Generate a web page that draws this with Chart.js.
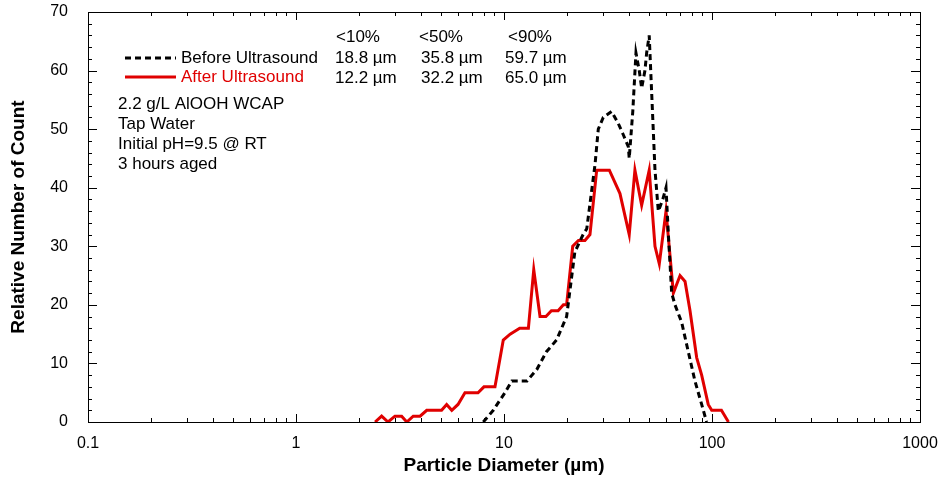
<!DOCTYPE html>
<html>
<head>
<meta charset="utf-8">
<script src="https://cdn.jsdelivr.net/npm/chart.js@4"></script>
<style>
  html, body { margin: 0; padding: 0; background: #fff; }
  #wrap { width: 943px; height: 477px; }
</style>
</head>
<body>
<div id="wrap"><canvas id="psd" width="943" height="477"></canvas></div>
<script>
// particle size distribution
const beforeX = [7.95, 8.88, 10.1, 10.9, 12.9, 14.4, 16.0, 17.9, 20.0, 21.9, 24.0, 25.0, 27.4, 28.4, 30.0,
  32.9, 35.4, 37.5, 39.6, 40.0, 41.6, 43.1, 44.7, 45.9, 47.6, 48.5, 49.9, 53.2, 55.2, 58.0,
  60.1, 61.7, 64.0, 66.4, 71.5, 76.9, 82.8, 89.2, 94.2];
const beforeY = [0, 2, 5, 7, 7, 9, 12, 14, 18, 29, 32, 33, 44, 50, 52,
  53, 51, 49, 47, 45, 53, 63, 60, 57, 60, 63, 66, 43, 36, 38,
  40, 32, 22, 20, 17, 12, 7, 3, 0];

const afterX = [2.40, 2.58, 2.77, 2.99, 3.22, 3.41, 3.66, 3.95, 4.25, 5.01, 5.30, 5.61, 6.01, 6.49, 7.50,
  8.01, 9.05, 9.92, 10.7, 11.9, 13.1, 13.9, 14.9, 15.9, 16.9, 18.2, 19.3, 20.0, 21.4, 22.8,
  24.5, 25.9, 27.9, 32.1, 36.1, 40.0, 42.6, 45.9, 49.9, 53.2, 55.8, 60.1, 65.2, 70.2, 74.2,
  78.4, 84.4, 89.2, 95.9, 99.7, 111, 120];
const afterY = [0, 1, 0, 1, 1, 0, 1, 1, 2, 2, 3, 2, 3, 5, 5,
  6, 6, 14, 15, 16, 16, 26, 18, 18, 19, 19, 20, 20, 30, 31,
  31, 32, 43, 43, 39, 32, 43, 37, 43, 30, 27, 36, 22, 25, 24,
  19, 11, 8, 3, 2, 2, 0];

const xTicks = [0.1, 1, 10, 100, 1000];
const yTicks = [0, 10, 20, 30, 40, 50, 60, 70];

const pctHeads = ['<10%', '<50%', '<90%'];
const beforePct = ['18.8 \u00b5m', '35.8 \u00b5m', '59.7 \u00b5m'];
const afterPct = ['12.2 \u00b5m', '32.2 \u00b5m', '65.0 \u00b5m'];
const notes = ['2.2 g/L AlOOH WCAP', 'Tap Water', 'Initial pH=9.5 @ RT', '3 hours aged'];

const FONT = '"Liberation Sans", Arial, sans-serif';

const toPts = (xs, ys) => xs.map((x, i) => ({ x, y: ys[i] }));

// frame, inward ticks, legend and text block
const decorations = {
  id: 'decorations',
  afterDraw(chart) {
    const { ctx, chartArea: a, scales: { x, y } } = chart;
    ctx.save();
    ctx.strokeStyle = '#000';
    ctx.lineWidth = 1;
    ctx.strokeRect(a.left + 0.5, a.top + 0.5, a.right - a.left, a.bottom - a.top);

    ctx.beginPath();
    for (let d = 0.1; d < 1000; d *= 10) {
      for (let m = 1; m <= 10; m++) {
        const px = Math.round(x.getPixelForValue(d * m)) + 0.5;
        const len = (m === 1 || m === 10) ? 8 : 4;
        ctx.moveTo(px, a.bottom); ctx.lineTo(px, a.bottom - len);
        ctx.moveTo(px, a.top); ctx.lineTo(px, a.top + len);
      }
    }
    for (let v = 0; v <= 70; v += 2) {
      const py = Math.round(y.getPixelForValue(v)) + 0.5;
      const len = v % 10 === 0 ? 9 : 4;
      ctx.moveTo(a.left, py); ctx.lineTo(a.left + len, py);
      ctx.moveTo(a.right, py); ctx.lineTo(a.right - len, py);
    }
    ctx.stroke();

    // legend
    ctx.lineWidth = 3;
    ctx.strokeStyle = '#000';
    ctx.setLineDash([6, 4]);
    ctx.beginPath(); ctx.moveTo(125, 58); ctx.lineTo(176, 58); ctx.stroke();
    ctx.setLineDash([]);
    ctx.strokeStyle = '#e00000';
    ctx.beginPath(); ctx.moveTo(125, 77); ctx.lineTo(176, 77); ctx.stroke();

    ctx.font = '17px ' + FONT;
    ctx.textBaseline = 'middle';
    ctx.textAlign = 'left';
    ctx.fillStyle = '#000';
    ctx.fillText('Before Ultrasound', 181, 58);
    ctx.fillStyle = '#e00000';
    ctx.fillText('After Ultrasound', 181, 77);

    ctx.fillStyle = '#000';
    const headCols = [336, 419, 508];
    const valCols = [335, 421, 505];
    pctHeads.forEach((t, i) => ctx.fillText(t, headCols[i], 37));
    beforePct.forEach((t, i) => ctx.fillText(t, valCols[i], 58));
    afterPct.forEach((t, i) => ctx.fillText(t, valCols[i], 78));

    notes.forEach((t, i) => ctx.fillText(t, 118, 104 + i * 20));
    ctx.restore();
  }
};

new Chart(document.getElementById('psd'), {
  type: 'scatter',
  data: {
    datasets: [{
      label: 'Before Ultrasound',
      data: toPts(beforeX, beforeY),
      showLine: true,
      borderColor: '#000',
      borderWidth: 3,
      borderDash: [6, 4],
      pointRadius: 0,
      order: 0
    }, {
      label: 'After Ultrasound',
      data: toPts(afterX, afterY),
      showLine: true,
      borderColor: '#e00000',
      borderWidth: 3,
      pointRadius: 0,
      order: 1
    }]
  },
  options: {
    responsive: false,
    animation: false,
    layout: { padding: { top: 12, right: 23, left: 0, bottom: 0 } },
    plugins: { legend: { display: false }, tooltip: { enabled: false } },
    scales: {
      x: {
        type: 'logarithmic',
        min: 0.1,
        max: 1000,
        afterBuildTicks: s => { s.ticks = xTicks.map(v => ({ value: v })); },
        afterFit: s => { s.height = 55; s.paddingLeft = 0; s.paddingRight = 0; },
        grid: { display: false },
        border: { display: false },
        ticks: {
          color: '#000',
          font: { family: FONT, size: 16 },
          padding: 4,
          maxRotation: 0,
          callback: v => String(v)
        },
        title: {
          display: true,
          text: 'Particle Diameter (\u00b5m)',
          color: '#000',
          font: { family: FONT, size: 19, weight: 'bold' },
          padding: { top: 0, bottom: 0 }
        }
      },
      y: {
        min: 0,
        max: 70,
        afterBuildTicks: s => { s.ticks = yTicks.map(v => ({ value: v })); },
        afterFit: s => { s.width = 88; s.paddingTop = 0; s.paddingBottom = 0; },
        grid: { display: false },
        border: { display: false },
        ticks: {
          color: '#000',
          font: { family: FONT, size: 16 },
          padding: 12
        },
        title: {
          display: true,
          text: 'Relative Number of Count',
          color: '#000',
          font: { family: FONT, size: 19, weight: 'bold' },
          padding: { top: 7, bottom: 4 }
        }
      }
    }
  },
  plugins: [decorations]
});
</script>
</body>
</html>
